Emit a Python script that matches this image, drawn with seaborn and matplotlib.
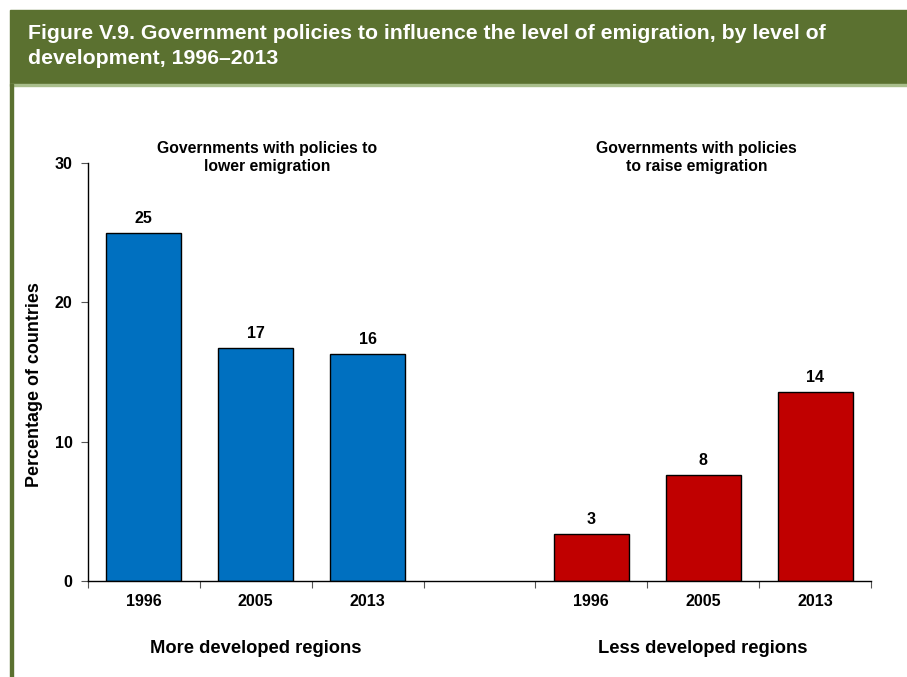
import matplotlib
matplotlib.use("Agg")
import matplotlib.pyplot as plt
import matplotlib.patches as mpatches
import seaborn as sns
import pandas as pd

# Data: percentage of countries with policies on emigration
slots = ["md1996", "md2005", "md2013", "gap", "ld1996", "ld2005", "ld2013"]
years = ["1996", "2005", "2013", "", "1996", "2005", "2013"]
groups = ["More", "More", "More", None, "Less", "Less", "Less"]
values = [25.0, 16.7, 16.3, None, 3.4, 7.6, 13.6]

group_titles = ["Governments with policies to\nlower emigration",
                "Governments with policies\nto raise emigration"]
region_labels = ["More developed regions", "Less developed regions"]
y_ticks = [0, 10, 20, 30]

title = ("Figure V.9. Government policies to influence the level of emigration, by level of\n"
         "development, 1996\u20132013")

df = pd.DataFrame({"slot": slots, "group": groups, "value": values}).dropna()

sns.set_theme(style="white")
plt.rcParams["font.family"] = ["Liberation Sans", "DejaVu Sans"]
plt.rcParams["font.weight"] = "bold"
plt.rcParams["text.color"] = "black"
plt.rcParams["axes.labelcolor"] = "black"
plt.rcParams["xtick.color"] = "black"
plt.rcParams["ytick.color"] = "black"

fig = plt.figure(figsize=(9.07, 6.77), dpi=100)
W, H = 907, 677

# Header band and frame line
green = "#5B7130"
fig.patches.append(mpatches.Rectangle((10 / W, 1 - 84 / H), 1 - 10 / W, 74 / H,
                                      transform=fig.transFigure, color=green, zorder=0))
fig.patches.append(mpatches.Rectangle((10 / W, 1 - 86 / H), 1 - 10 / W, 2 / H,
                                      transform=fig.transFigure, color="#A9BE8C", zorder=0))
fig.patches.append(mpatches.Rectangle((10 / W, 0), 2.5 / W, 1 - 84 / H,
                                      transform=fig.transFigure, color=green, zorder=0))
fig.text(28 / W, 1 - 46 / H, title, color="white", fontsize=15.3, fontweight="bold",
         va="center", ha="left", linespacing=1.38)

ax = fig.add_axes([88 / W, 1 - 581 / H, (871 - 88) / W, (581 - 163) / H])
sns.barplot(data=df, x="slot", y="value", hue="group", order=slots,
            hue_order=["More", "Less"], palette=["#0070C0", "#C00000"],
            saturation=1, dodge=False, width=0.67, edgecolor="black", linewidth=1.0,
            legend=False, ax=ax)

for cont in ax.containers:
    ax.bar_label(cont, labels=[f"{b.get_height():.0f}" for b in cont],
                 padding=5, fontsize=11.5, fontweight="bold", color="black")

ax.set_xlim(-0.5, len(slots) - 0.5)
ax.set_ylim(0, 30)
ax.set_yticks(y_ticks)
ax.set_yticklabels([str(t) for t in y_ticks], fontsize=11.5, fontweight="bold")
ax.set_xticks(range(len(slots)))
ax.set_xticklabels(years, fontsize=11.5, fontweight="bold")
ax.set_xticks([i - 0.5 for i in range(len(slots) + 1)], minor=True)
ax.tick_params(axis="x", which="major", length=0, pad=9)
ax.tick_params(axis="x", which="minor", length=5, width=0.8, color="#555555", direction="out", bottom=True)
ax.tick_params(axis="y", length=5, width=0.8, color="#555555", direction="out", left=True, pad=6)
ax.set_xlabel("")
ax.set_ylabel("Percentage of countries", fontsize=12.9, fontweight="bold")
ax.yaxis.set_label_coords(-0.058, 0.47)

for side in ["top", "right"]:
    ax.spines[side].set_visible(False)
for side in ["left", "bottom"]:
    ax.spines[side].set_color("black")
    ax.spines[side].set_linewidth(1.0)

# Group headings above and region names below
ax.text(1.1, 30.4, group_titles[0], ha="center", va="center", fontsize=11.3,
        fontweight="bold", linespacing=1.2)
ax.text(4.94, 30.4, group_titles[1], ha="center", va="center", fontsize=11.3,
        fontweight="bold", linespacing=1.2)
ax.text(1.0, -4.85, region_labels[0], ha="center", va="center", fontsize=13.2, fontweight="bold")
ax.text(5.0, -4.85, region_labels[1], ha="center", va="center", fontsize=13.2, fontweight="bold")

fig.savefig("out.png", dpi=100)
